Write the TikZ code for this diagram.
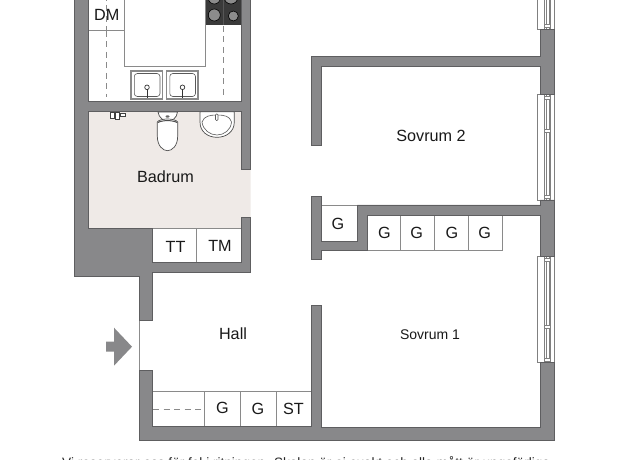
\documentclass[tikz,border=0pt]{standalone}
\usepackage{fontspec}
\setmainfont{Liberation Sans}
\definecolor{wallc}{HTML}{88888A}
\definecolor{walle}{HTML}{5E5E60}
\definecolor{floorc}{HTML}{EFEAE7}
\definecolor{linec}{HTML}{8A8A8A}
\definecolor{hobc}{HTML}{3A3A3A}
\tikzset{
  wall/.style={fill=wallc,draw=walle,line width=0.7pt,line join=miter},
  closet/.style={draw=linec,line width=0.9pt,fill=white},
  dashline/.style={draw=linec,line width=0.8pt,dash pattern=on 6pt off 4.5pt},
  fixture/.style={draw=black!70,line width=0.7pt,fill=white},
  winline/.style={draw=black!50,line width=0.55pt,fill=white},
  lab/.style={font=\fontsize{16.2}{18}\selectfont,text=black!90,inner sep=0pt},
  labsmall/.style={font=\fontsize{14}{16}\selectfont,text=black!90,inner sep=0pt},
  hobring/.style={fill=black!45,draw=black,line width=0.6pt}
}
\newcommand{\windowpart}[2]{%
  \path[winline] (536.8,#1) rectangle (554,#2);
  \path[winline] (544.3,#1) rectangle (550.7,#2);
  \draw[black!50,line width=0.5pt] (546,#1) -- (546,#2) (549,#1) -- (549,#2);
}
\newcommand{\sinkpart}[1]{%
  \draw[draw=linec,line width=1.5pt,fill=white] (#1-16,71) rectangle (#1+15.7,99);
  \draw[black!65,line width=0.6pt,rounded corners=3pt] (#1-12.7,73.5) rectangle (#1+13,96.5);
  \draw[black!80,line width=0.7pt] (#1,87.3) circle (2.3);
  \draw[black!80,line width=0.9pt] (#1,89) -- (#1,98);
}
\begin{document}
\begin{tikzpicture}[x=1pt,y=-1pt]
\useasboundingbox (0,0) rectangle (625,460);
\clip (0,0) rectangle (625,460);
\fill[white] (0,0) rectangle (625,460);
% bathroom floor
\fill[floorc] (88.7,111.7) -- (241,111.7) -- (241,169) -- (250.5,169) -- (250.5,217.7) -- (241,217.7) -- (241,228.3) -- (88.7,228.3) -- cycle;
% kitchen units
\draw[closet] (88.7,-5) rectangle (124.3,30.7);
\draw[closet] (124.3,-5) rectangle (205.7,66);
\fill[hobc] (205.7,-5) rectangle (241,25);
\foreach \cx/\cy/\r in {214.3/-2/6,231/-3/7,214.3/15/6,233.3/16/5}{
  \path[hobring] (\cx,\cy) circle (\r);
}
\draw[dashline] (106.7,31) -- (106.7,97);
\draw[dashline] (106.7,-5) -- (106.7,30);
\draw[dashline] (223.3,26) -- (223.3,97);
\draw[hobc!60!gray,line width=0.6pt] (223.3,0) -- (223.3,25);
\sinkpart{147}
\sinkpart{182.5}
% bathroom fixtures
\draw[fixture] (200,111.7) -- (200,122) .. controls (200,132) and (208,137.3) .. (217,137.3) .. controls (226,137.3) and (234.3,132) .. (234.3,122) -- (234.3,111.7) -- cycle;
\draw[black!65,line width=0.6pt] (202,122) .. controls (204,116) and (210,115) .. (217,115) .. controls (224,115) and (230,116) .. (231.5,122) .. controls (231,130) and (224,135) .. (217,135) .. controls (210,135) and (203,130) .. (202,122) -- cycle;
\draw[black!65,line width=0.6pt,fill=white,rounded corners=1pt] (215.5,114) rectangle (218,120.5);
\draw[fixture] (158,112) .. controls (160,124) and (176,124) .. (177.5,112) -- cycle;
\draw[fixture] (157.3,122) .. controls (160,118) and (175,118) .. (177.7,122) -- (177.7,136) .. controls (177.7,146) and (172,150.7) .. (167.5,150.7) .. controls (163,150.7) and (157.3,146) .. (157.3,136) -- cycle;
\draw[black!70,line width=1pt] (158,122.5) .. controls (162,120) and (173,120) .. (177,122.5);
\fill[black!60] (167.5,116.5) ellipse (2 and 1.2);
\draw[black!75,line width=0.8pt,fill=white] (110.5,112) rectangle (114,118.5) (115,112.5) rectangle (119,119.5) (120,113) rectangle (125.5,116);
% closets
\draw[closet] (152.7,228.3) rectangle (196.8,262);
\draw[closet] (196.8,228.3) rectangle (241,262);
\draw[closet] (152.7,391.3) rectangle (204,426.7);
\draw[closet] (204,391.3) rectangle (240,426.7);
\draw[closet] (240,391.3) rectangle (276,426.7);
\draw[closet] (276,391.3) rectangle (311,426.7);
\draw[dashline] (153,409) -- (204,409);
\draw[closet] (321.7,205) rectangle (357.3,241.7);
\draw[closet] (367,215) rectangle (400.7,250.7);
\draw[closet] (400.7,215) rectangle (434.3,250.7);
\draw[closet] (434.3,215) rectangle (468.3,250.7);
\draw[closet] (468.3,215) rectangle (502,250.7);
% windows
\windowpart{-5}{29.3}
\windowpart{94.3}{200}
\windowpart{256.7}{362.7}
\foreach \wy in {130.5,97.5,197.0,260,326.7,359.5,26}{
  \draw[winline] (544.3,\wy-1.7) rectangle (550.7,\wy+1.7);
}
% door line
\draw[black!45,line width=0.6pt] (139,320.7) -- (139,370);
% walls
\path[wall] (74.3,-5) -- (74.3,276.7) -- (139,276.7) -- (139,320.7) -- (152.7,320.7) -- (152.7,272.3) -- (250.5,272.3) -- (250.5,217.7) -- (241,217.7) -- (241,262) -- (152.7,262) -- (152.7,228.3) -- (88.7,228.3) -- (88.7,111.7) -- (241,111.7) -- (241,169) -- (250.5,169) -- (250.5,-5) -- (241,-5) -- (241,101.7) -- (88.7,101.7) -- (88.7,-5) -- cycle;
\path[wall] (139,370) -- (152.7,370) -- (152.7,426.7) -- (311,426.7) -- (311,305.7) -- (321.7,305.7) -- (321.7,427) -- (540.7,427) -- (540.7,362.7) -- (554,362.7) -- (554,440.7) -- (139,440.7) -- cycle;
\path[wall] (311.3,196.7) -- (321.7,196.7) -- (321.7,241.7) -- (357.3,241.7) -- (357.3,205) -- (540,205) -- (540,200) -- (554,200) -- (554,256.7) -- (540,256.7) -- (540,215) -- (367,215) -- (367,250.7) -- (321.7,250.7) -- (321.7,259.3) -- (311.3,259.3) -- cycle;
\path[wall] (311.3,145) -- (311.3,56.7) -- (540,56.7) -- (540,29.3) -- (554,29.3) -- (554,94.3) -- (540,94.3) -- (540,66.7) -- (321.7,66.7) -- (321.7,145) -- cycle;
% entrance arrow
\fill[wallc] (106,341.7) -- (114,341.7) -- (114,327.7) -- (132,346.7) -- (114,365.7) -- (114,351.7) -- (106,351.7) -- cycle;
% labels
\node[lab] (dm) at (106.7,14.5) {DM};
\node[lab] (badrum) at (165.5,177) {Badrum};
\node[lab] (tt) at (175.5,246.5) {TT};
\node[lab] (tm) at (220,245.5) {TM};
\node[lab] (hall) at (233,333.5) {Hall};
\node[lab] (sovrum2) at (431,135.5) {Sovrum 2};
\node[labsmall] (sovrum1) at (430,334.5) {Sovrum 1};
\node[lab] (gs) at (338,223.5) {G};
\node[lab] (g1) at (384.3,232.5) {G};
\node[lab] (g2) at (416.7,232.5) {G};
\node[lab] (g3) at (452,232.5) {G};
\node[lab] (g4) at (484.7,232.5) {G};
\node[lab] (g5) at (222.3,408) {G};
\node[lab] (g6) at (258,409) {G};
\node[lab] (st) at (293.5,409) {ST};
\node[anchor=base west,inner sep=0pt,font=\fontsize{13.6}{16}\selectfont,text=black!85] (note) at (62,467.5) {Vi reserverar oss för fel i ritningen. Skalan är ej exakt och alla mått är ungefärliga.};
\end{tikzpicture}
\end{document}
